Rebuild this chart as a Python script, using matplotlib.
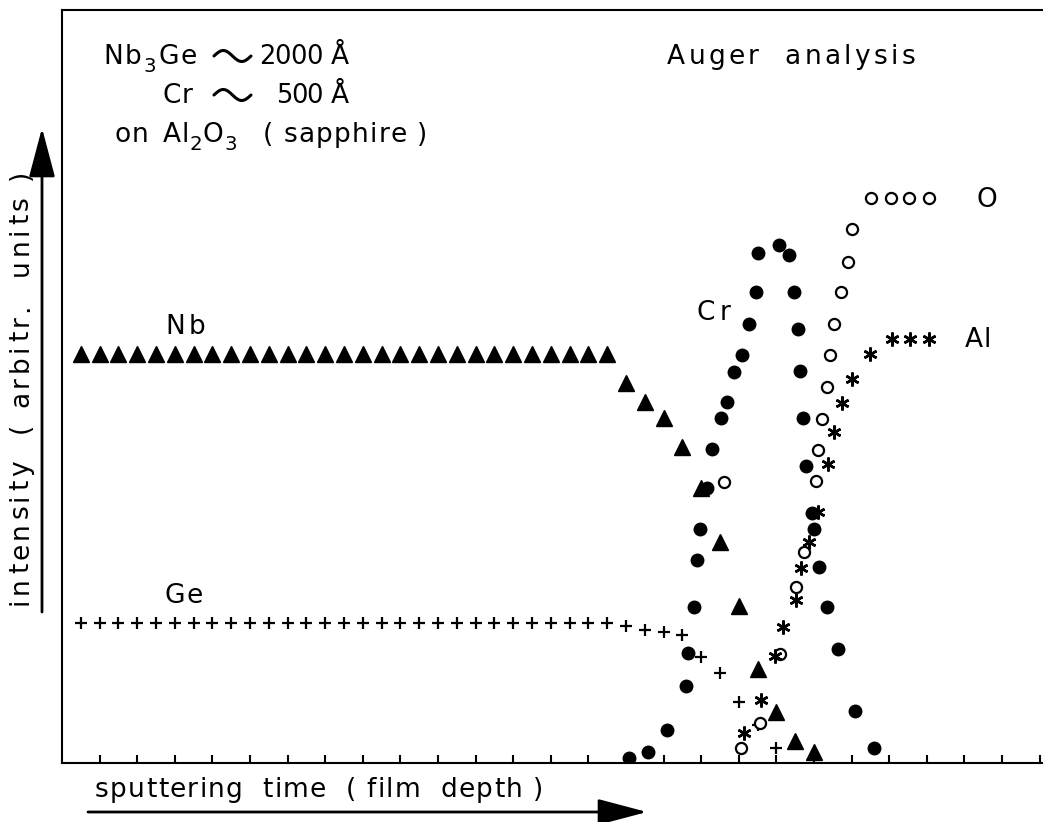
import numpy as np
import matplotlib
matplotlib.use("Agg")
import matplotlib.pyplot as plt
from matplotlib.lines import Line2D
from matplotlib.transforms import IdentityTransform

# Auger depth profile of a Nb3Ge / Cr film on sapphire
# x: sputtering time in tick units, y: intensity (arbitrary units, 0-100)

nb_x = [0.5 * i for i in range(1, 30)] + [15.0, 15.5, 16.0, 16.5, 17.0, 17.5, 18.0, 18.5, 19.0, 19.5, 20.0]
nb_y = [54.3] * 29 + [50.5, 47.9, 45.8, 42.0, 36.5, 29.3, 20.8, 12.5, 6.8, 2.9, 1.5]

ge_x = [0.5 * i for i in range(1, 30)] + [15.0, 15.5, 16.0, 16.5, 17.0, 17.5, 18.0, 18.5, 19.0]
ge_y = [18.6] * 29 + [18.2, 17.7, 17.4, 17.0, 14.1, 12.0, 8.1, 5.0, 2.0]

cr_x = [15.08, 15.59, 16.09, 16.60, 16.65, 16.80, 16.90, 16.97, 17.15, 17.29, 17.53,
        17.69, 17.87, 18.09, 18.27, 18.46, 18.51, 19.07, 19.34, 19.47, 19.57, 19.62,
        19.71, 19.79, 19.95, 20.00, 20.13, 20.35, 20.64, 21.10, 21.60]
cr_y = [0.7, 1.5, 4.4, 10.2, 14.6, 20.7, 27.0, 31.1, 36.5, 41.7, 45.8,
        47.9, 51.9, 54.2, 58.3, 62.5, 67.7, 68.8, 67.5, 62.5, 57.6, 52.1,
        45.8, 39.4, 33.2, 31.1, 26.0, 20.7, 15.1, 6.9, 2.0]

o_x = [17.61, 18.06, 18.56, 19.10, 19.52, 19.73, 20.05, 20.10, 20.21, 20.35, 20.43,
       20.53, 20.72, 20.90, 21.01, 21.52, 22.05, 22.53, 23.06]
o_y = [37.3, 2.0, 5.3, 14.5, 23.4, 28.0, 37.5, 41.6, 45.7, 49.9, 54.2,
       58.3, 62.5, 66.5, 70.9, 75.0, 75.0, 75.0, 75.0]

al_x = [18.14, 18.59, 18.96, 19.18, 19.52, 19.65, 19.87, 20.11, 20.37, 20.53, 20.74,
        21.01, 21.49, 22.07, 22.55, 23.06]
al_y = [4.0, 8.4, 14.2, 18.1, 21.6, 25.9, 29.3, 33.3, 39.7, 44.0, 47.8,
        51.0, 54.3, 56.3, 56.3, 56.3]

x_ticks = list(range(1, 27))

W, H = 1043, 822
plt.rcParams['font.family'] = ['DejaVu Sans']
fig = plt.figure(figsize=(W / 100, H / 100), dpi=100)
renderer = fig.canvas.get_renderer()

left, right, bottom, top = 62, 1060, 763, 10
ax = fig.add_axes([left / W, (H - bottom) / H, (right - left) / W, (bottom - top) / H])
ax.set_xlim(0, (right - left) / 37.6)
ax.set_ylim(0, 100)

for side in ['left', 'top', 'bottom']:
    ax.spines[side].set_linewidth(1.5)
ax.spines['right'].set_visible(False)
ax.set_xticks(x_ticks)
ax.tick_params(axis='x', direction='in', length=6, width=1.5, labelbottom=False)
ax.set_yticks([])

ax.plot(nb_x, nb_y, ls='none', marker='^', ms=11.5, color='black', mec='black')
ax.plot(ge_x, ge_y, ls='none', marker='+', ms=9, mew=1.6, color='black')
ax.plot(cr_x, cr_y, ls='none', marker='o', ms=9, color='black')
ax.plot(o_x, o_y, ls='none', marker='o', ms=8, mfc='white', mec='black', mew=1.6)
ax.plot(al_x, al_y, ls='none', marker=(6, 2, 0), ms=10, mew=1.8, color='black')

FS = 19
SUB = FS * 0.75
DIG = 18.5


def spaced(x0, x1, base, parts, rot=False, min_gap=0.5):
    """Letter-spaced lettering filling the pixel span x0..x1 (measured from the top-left).

    parts: list of (text, fontsize, baseline shift in px).
    For rot=True the span runs bottom-to-top and `base` is the baseline x.
    """
    items = [(ch, size, dy) for s, size, dy in parts for ch in s]
    widths, artists = [], []
    for ch, size, dy in items:
        if ch == ' ':
            widths.append(0.3 * size * 100 / 72)
            artists.append(None)
            continue
        t = fig.text(0, 0, ch, fontsize=size, transform=IdentityTransform(),
                     ha='left', va='baseline', rotation=90 if rot else 0,
                     rotation_mode='anchor')
        bb = t.get_window_extent(renderer)
        widths.append(bb.height if rot else bb.width)
        artists.append(t)
    gap = max((abs(x1 - x0) - sum(widths)) / max(len(items) - 1, 1), min_gap)
    pos = 0.0
    for (ch, size, dy), w, t in zip(items, widths, artists):
        if t is not None:
            if rot:
                t.set_position((base - dy, H - x0 + pos))
            else:
                t.set_position((x0 + pos, H - base + dy))
        pos += w + gap


def tilde(x0, x1, yc, amp=5.5):
    """Hand-lettered 'approximately' sign drawn as one sine period."""
    t = np.linspace(0, 1, 60)
    xs = x0 + (x1 - x0) * t
    ys = (H - yc) + amp * np.sin(2 * np.pi * t)
    fig.add_artist(Line2D(xs, ys, transform=IdentityTransform(), color='black',
                          lw=2.2, solid_capstyle='round'))


# sample description
spaced(103, 197, 64, [('Nb', FS, 0), ('3', SUB, -8), ('Ge', FS, 0)])
tilde(214, 251, 56)
spaced(259, 323, 64, [('2000', DIG, 0)], min_gap=-3)
spaced(331, 357, 64, [('Å', FS, 0)])

spaced(163, 188, 103, [('Cr', FS, 0)])
tilde(214, 251, 95)
spaced(276, 323, 103, [('500', DIG, 0)], min_gap=-3)
spaced(331, 357, 103, [('Å', FS, 0)])

spaced(115, 142, 142, [('on', FS, 0)])
spaced(163, 237, 142, [('Al', FS, 0), ('2', SUB, -8), ('O', FS, 0), ('3', SUB, -8)])
spaced(263, 427, 142, [('( sapphire )', FS, 0)])

spaced(667, 915, 64, [('Auger  analysis', FS, 0)])

# series labels
spaced(165, 205, 334, [('Nb', FS, 0)])
spaced(165, 203, 603, [('Ge', FS, 0)])
spaced(697, 730, 320, [('Cr', FS, 0)])
spaced(976, 996, 207, [('O', FS, 0)])
spaced(965, 990, 347, [('Al', FS, 0)])

# axis captions
spaced(95, 543, 797, [('sputtering  time  ( film  depth )', FS, 0)])
spaced(605, 170, 28, [('intensity  ( arbitr.  units )', FS, 0)], rot=True)

arrow = dict(arrowstyle='-|>,head_length=1.7,head_width=0.45', lw=2.0, color='black',
             shrinkA=0, shrinkB=0, mutation_scale=18)
ax.annotate('', xy=(42, H - 128), xytext=(42, H - 612), xycoords='figure pixels',
            textcoords='figure pixels', arrowprops=arrow, annotation_clip=False)
ax.annotate('', xy=(647, H - 812), xytext=(88, H - 812), xycoords='figure pixels',
            textcoords='figure pixels', arrowprops=arrow, annotation_clip=False)

fig.savefig('out.png', dpi=100)
